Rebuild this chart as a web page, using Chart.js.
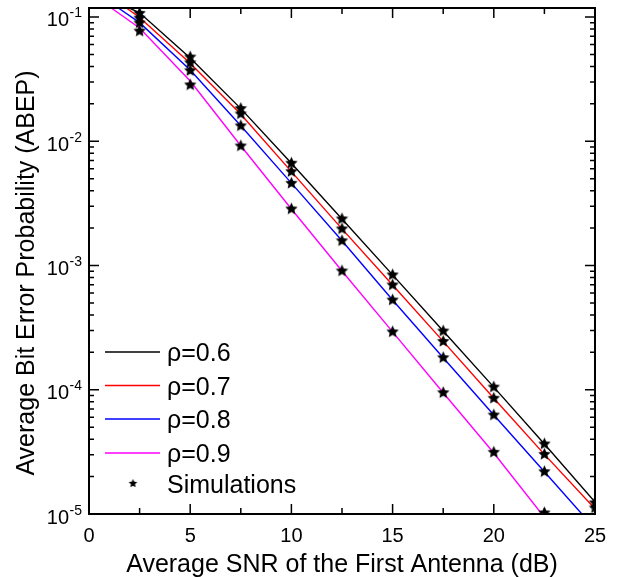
<!DOCTYPE html>
<html>
<head>
<meta charset="utf-8">
<script src="https://cdn.jsdelivr.net/npm/chart.js@4.4.1/dist/chart.umd.min.js"></script>
<style>
  html, body { margin: 0; padding: 0; background: #fff; }
  canvas { display: block; }
</style>
</head>
<body>
<canvas id="c" width="621" height="577"></canvas>
<script>
// ---- data ----
const snr = [2.5, 5, 7.5, 10, 12.5, 15, 17.5, 20, 22.5, 25];
const rhoLabels = ['ρ=0.6', 'ρ=0.7', 'ρ=0.8', 'ρ=0.9'];
const lineColors = ['#000000', '#ff0000', '#0000ff', '#ff00ff'];

// analytical curves: first x is where each curve enters the top of the plot
const theoryStartX = [2.0, 1.85, 1.45, 1.1];
const theory06 = [0.118, 0.108, 0.0468, 0.0183, 0.00665, 0.00237, 0.00084, 0.000297, 1.05e-4, 3.66e-5, 1.25e-5];
const theory07 = [0.118, 0.099, 0.0425, 0.0165, 0.00569, 0.00197, 0.000697, 0.000245, 8.54e-5, 3.02e-5, 1.1e-5];
const theory08 = [0.118, 0.090, 0.0375, 0.0133, 0.0046, 0.00158, 0.000527, 0.000181, 6.26e-5, 2.19e-5, 7.6e-6];
const theory09 = [0.118, 0.0816, 0.0305, 0.0092, 0.00285, 0.000903, 0.000292, 9.46e-5, 3.1e-5, 9.4e-6, 3.2e-6];

// simulation points (stars)
const sim06 = [0.107, 0.0476, 0.0183, 0.00665, 0.00237, 0.00084, 0.000297, 1.05e-4, 3.66e-5, 1.23e-5];
const sim07 = [0.098, 0.0428, 0.0166, 0.00569, 0.00197, 0.000697, 0.000245, 8.54e-5, 3.02e-5, 1.12e-5];
const sim08 = [0.0895, 0.037, 0.0133, 0.00459, 0.00158, 0.000527, 0.000181, 6.26e-5, 2.19e-5, 7.7e-6];
const sim09 = [0.077, 0.0284, 0.00916, 0.00285, 0.000903, 0.000292, 9.46e-5, 3.14e-5, 1.02e-5, 3.4e-6];

const xMajor = [0, 5, 10, 15, 20, 25];
const xMinor = [2.5, 7.5, 12.5, 17.5, 22.5];
const yDecades = [1e-5, 1e-4, 1e-3, 1e-2, 1e-1];
const yExp = ['-5', '-4', '-3', '-2', '-1'];

const xTitle = 'Average SNR of the First Antenna (dB)';
const yTitle = 'Average Bit Error Probability (ABEP)';
const simLabel = 'Simulations';

const FONT = '"Liberation Sans", Arial, sans-serif';

function makeStar(r) {
  const s = Math.ceil(r * 2) + 2;
  const c = document.createElement('canvas');
  c.width = s; c.height = s;
  const g = c.getContext('2d');
  g.fillStyle = '#000';
  g.beginPath();
  for (let i = 0; i < 10; i++) {
    const rad = i % 2 ? r * 0.48 : r;
    const ang = -Math.PI / 2 + i * Math.PI / 5;
    const px = s / 2 + rad * Math.cos(ang), py = s / 2 + rad * Math.sin(ang);
    i ? g.lineTo(px, py) : g.moveTo(px, py);
  }
  g.closePath();
  g.fill();
  return c;
}
const bigStar = makeStar(6.5);
const smallStar = makeStar(4.5);

const theories = [theory06, theory07, theory08, theory09];
const sims = [sim06, sim07, sim08, sim09];

const datasets = [];
theories.forEach((t, i) => {
  const xs = [theoryStartX[i], ...snr];
  datasets.push({
    label: rhoLabels[i],
    type: 'line',
    data: t.map((v, k) => ({ x: xs[k], y: v })),
    borderColor: lineColors[i],
    borderWidth: 1.4,
    pointRadius: 0,
    fill: false,
    tension: 0,
    clip: 0,
    order: 2
  });
});
sims.forEach((s, i) => {
  datasets.push({
    label: simLabel + ' ' + rhoLabels[i],
    data: s.map((v, k) => ({ x: snr[k], y: v })),
    pointStyle: bigStar,
    showLine: false,
    clip: 0,
    order: 1
  });
});

const frame = {
  id: 'frame',
  afterDraw(chart) {
    const { ctx, chartArea: a, scales: { x, y } } = chart;
    ctx.save();
    ctx.strokeStyle = '#000';
    ctx.fillStyle = '#000';

    // inward ticks
    ctx.lineWidth = 1.5;
    ctx.beginPath();
    const xt = (v, len) => {
      const px = x.getPixelForValue(v);
      ctx.moveTo(px, a.bottom); ctx.lineTo(px, a.bottom - len);
      ctx.moveTo(px, a.top); ctx.lineTo(px, a.top + len);
    };
    xMajor.forEach(v => xt(v, 10));
    xMinor.forEach(v => xt(v, 6));
    const yt = (v, len) => {
      const py = y.getPixelForValue(v);
      ctx.moveTo(a.left, py); ctx.lineTo(a.left + len, py);
      ctx.moveTo(a.right, py); ctx.lineTo(a.right - len, py);
    };
    yDecades.forEach(d => {
      yt(d, 10);
      for (let m = 2; m <= 9; m++) {
        if (m * d <= y.max) yt(m * d, 5);
      }
    });
    ctx.stroke();

    // frame
    ctx.lineWidth = 2;
    ctx.strokeRect(a.left, a.top, a.right - a.left, a.bottom - a.top);

    // x tick labels
    ctx.font = '20px ' + FONT;
    ctx.textAlign = 'center';
    ctx.textBaseline = 'alphabetic';
    xMajor.forEach(v => ctx.fillText(String(v), x.getPixelForValue(v), 542));

    // y tick labels 10^n
    yDecades.forEach((d, i) => {
      const py = y.getPixelForValue(d);
      ctx.font = '20px ' + FONT;
      ctx.textAlign = 'right';
      ctx.fillText('10', 69, py + 9.5);
      ctx.font = '14px ' + FONT;
      ctx.textAlign = 'left';
      ctx.fillText(yExp[i], 69.5, py + 0.5);
    });

    // axis titles
    ctx.font = '25px ' + FONT;
    ctx.textAlign = 'center';
    ctx.fillText(xTitle, (a.left + a.right) / 2, 572);
    ctx.save();
    ctx.translate(34, 273);
    ctx.rotate(-Math.PI / 2);
    ctx.fillText(yTitle, 0, 0);
    ctx.restore();

    // legend inside plot
    const rows = [352, 385.5, 419, 453];
    ctx.font = '25px ' + FONT;
    ctx.textAlign = 'left';
    rows.forEach((ry, i) => {
      ctx.strokeStyle = lineColors[i];
      ctx.lineWidth = 1.4;
      ctx.beginPath();
      ctx.moveTo(105, ry); ctx.lineTo(160, ry);
      ctx.stroke();
      ctx.fillText(rhoLabels[i], 167, ry + 9);
    });
    ctx.drawImage(smallStar, 133 - smallStar.width / 2, 483.5 - smallStar.height / 2);
    ctx.fillText(simLabel, 167, 492.5);

    ctx.restore();
  }
};

new Chart(document.getElementById('c'), {
  type: 'scatter',
  data: { datasets },
  options: {
    responsive: false,
    animation: false,
    events: [],
    layout: { padding: { left: 89, right: 26, top: 8, bottom: 63 } },
    plugins: { legend: { display: false }, tooltip: { enabled: false } },
    scales: {
      x: { type: 'linear', min: 0, max: 25, display: false },
      y: { type: 'logarithmic', min: 1e-5, max: 0.1181, display: false }
    }
  },
  plugins: [frame]
});
</script>
</body>
</html>
